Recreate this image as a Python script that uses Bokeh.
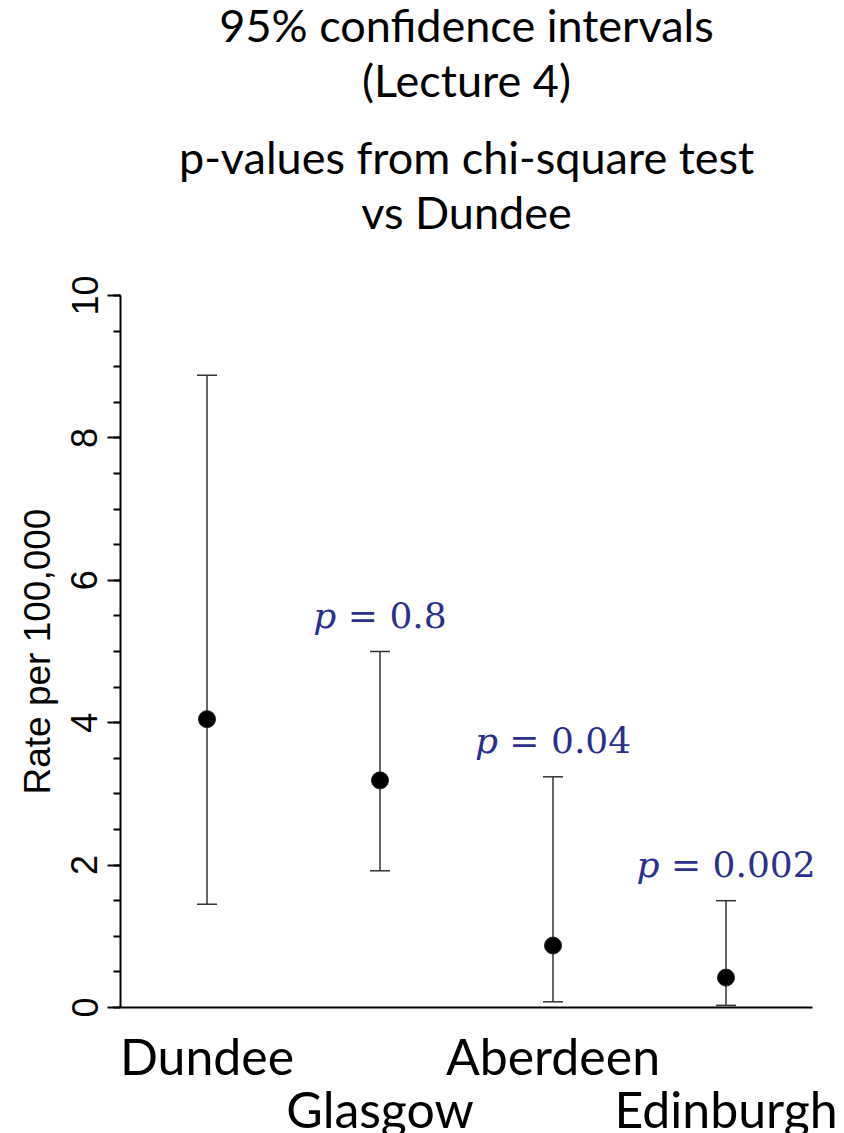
from bokeh.plotting import figure
from bokeh.models import (ColumnDataSource, Whisker, TeeHead, Title,
                          SingleIntervalTicker, Range1d)
from bokeh.core.properties import value
from bokeh.embed import file_html
from bokeh.resources import INLINE

# ---- data ----
cities = ["Dundee", "Glasgow", "Aberdeen", "Edinburgh"]
rate = [4.05, 3.19, 0.87, 0.42]
lower = [1.45, 1.92, 0.08, 0.03]
upper = [8.88, 5.00, 3.24, 1.50]
p_cities = ["Glasgow", "Aberdeen", "Edinburgh"]
p_values = ["0.8", "0.04", "0.002"]
label_row = [0, 1, 0, 1]          # staggered category-name rows
title_lines = ["95% confidence intervals", "(Lecture 4)",
               "p-values from chi-square test", "vs Dundee"]
y_label = "Rate per 100,000"

# ---- layout (pixels) ----
W, H = 844, 1133
LEFT = 120            # y-axis panel width
X_UNIT = 173          # px per category
Y_TOP_PX = 295        # pixel row of y = 10
Y_ZERO_PX = 1007      # pixel row of y = 0
Y_MAX = 10
y_unit = (Y_ZERO_PX - Y_TOP_PX) / Y_MAX
x_end = (W - LEFT) / X_UNIT
y_end = Y_ZERO_PX / y_unit
y_start = -(H - Y_ZERO_PX) / y_unit

BLUE = "#2B2F8F"
SANS = "Lato"

xpos = [i + 0.5 for i in range(len(cities))]
src = ColumnDataSource(dict(x=xpos, rate=rate, lower=lower, upper=upper))

p = figure(width=W, height=H, output_backend="svg", toolbar_location=None,
           x_range=Range1d(0, x_end), y_range=Range1d(y_start, y_end),
           title=None, min_border_left=LEFT, min_border_right=0,
           min_border_top=0, min_border_bottom=0)
p.outline_line_color = None
p.grid.grid_line_color = None
p.background_fill_color = "white"
p.border_fill_color = "white"
p.xaxis.visible = False

# x-axis rule along y = 0 across the category span
p.segment(x0=[0], x1=[len(cities)], y0=[0], y1=[0], line_color="black",
          line_width=2)

# error bars
head_kw = dict(size=20, line_color="#333333", line_width=1.5)
p.add_layout(Whisker(base="x", upper="upper", lower="lower", source=src,
                     line_color="#333333", line_width=1.5,
                     upper_head=TeeHead(**head_kw), lower_head=TeeHead(**head_kw)))
p.scatter(x="x", y="rate", source=src, size=17, fill_color="black",
          line_color="#222222", line_width=1)

# p-value labels: italic "p" + upright "= value", centred on category
FS = 36
cw = {"0": 0.636, "1": 0.636, "2": 0.636, "4": 0.636, "8": 0.636, ".": 0.318}
px_, ys, rests, split_off = [], [], [], []
for c, v in zip(p_cities, p_values):
    i = cities.index(c)
    left_w = (0.640 + 0.318) * FS
    right_w = (0.838 + 0.318 + sum(cw[ch] for ch in v)) * FS
    split_off.append(-(left_w + right_w) / 2 + left_w)
    px_.append(xpos[i])
    ys.append(upper[i])
    rests.append("= " + v)
psrc = ColumnDataSource(dict(x=px_, y=ys, rest=rests, xo=split_off,
                             xp=[s - 0.318 * FS for s in split_off], pp=["p"] * 3))
P_OFF = -36
p.text(x="x", y="y", text="pp", source=psrc, x_offset="xp", y_offset=P_OFF,
       text_align="right", text_baseline="alphabetic", text_color=BLUE,
       text_font=value("DejaVu Serif"), text_font_style="italic",
       text_font_size=f"{FS}px")
p.text(x="x", y="y", text="rest", source=psrc, x_offset="xo", y_offset=P_OFF,
       text_align="left", text_baseline="alphabetic", text_color=BLUE,
       text_font=value("DejaVu Serif"), text_font_size=f"{FS}px")

# category names in two staggered rows below the axis
ROW_OFF = [48, 101]
csrc = ColumnDataSource(dict(x=xpos, y=[0] * len(cities), t=cities,
                             yo=[ROW_OFF[r] for r in label_row]))
p.text(x="x", y="y", text="t", source=csrc, y_offset="yo",
       text_align="center", text_baseline="middle", text_color="black",
       text_font=value(SANS), text_font_size="50px")

# title lines, centred over the category span
T_OFF = [24, 79, 156, 211]
tsrc = ColumnDataSource(dict(x=[len(cities) / 2] * 4, y=[y_end] * 4,
                             t=title_lines, yo=T_OFF))
p.text(x="x", y="y", text="t", source=tsrc, y_offset="yo",
       text_align="center", text_baseline="middle", text_color="black",
       text_font=value(SANS), text_font_size="45px")

# y axis
ya = p.yaxis[0]
ya.bounds = (0, Y_MAX)
ya.ticker = SingleIntervalTicker(interval=2, num_minor_ticks=4)
ya.axis_line_width = 2
ya.major_tick_line_width = 2
ya.minor_tick_line_width = 2
ya.major_tick_out = 13
ya.major_tick_in = 0
ya.minor_tick_out = 7
ya.minor_tick_in = 0
ya.major_label_orientation = "vertical"
ya.major_label_text_font = "Liberation Sans"
ya.major_label_text_font_size = "36px"
ya.major_label_text_color = "black"
ya.major_label_standoff = 10

# y-axis title, centred on the 0..10 span of the axis
YL_FS = 37
yl_len = 7.73 * YL_FS       # approx. text length in px
offset = H - ((Y_TOP_PX + Y_ZERO_PX) / 2 + yl_len / 2)
p.add_layout(Title(text=y_label, align="left", offset=offset, standoff=22,
                   text_font="Liberation Sans", text_font_size=f"{YL_FS}px",
                   text_font_style="normal", text_color="black"), "left")

open("out.html", "w").write(file_html(p, INLINE))
